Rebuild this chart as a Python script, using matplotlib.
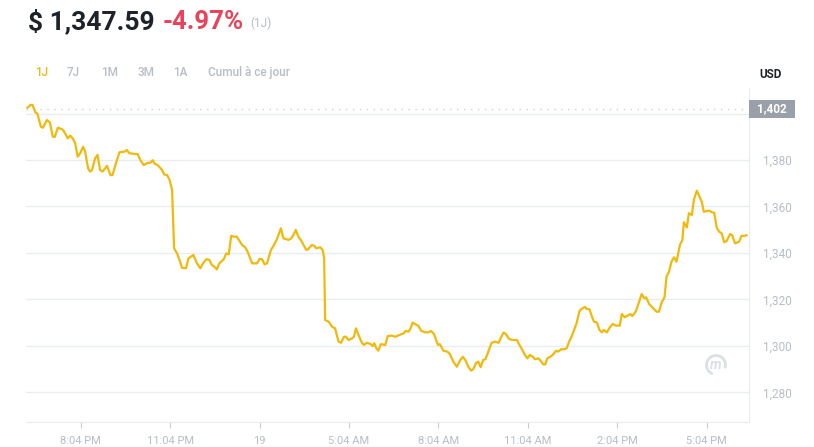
import matplotlib
matplotlib.use('Agg')
import matplotlib.pyplot as plt
from matplotlib.patches import Rectangle, Arc
from matplotlib.transforms import blended_transform_factory

# minutes since 18:00 on the 18th, and price in USD
minutes = [17, 23, 27, 33, 37, 44, 48, 56, 62, 68, 72, 78, 86, 90, 98, 103, 108, 113, 118, 123,
           129, 133, 139, 143, 147, 153, 158, 163, 168, 177, 184, 188, 196, 202, 212, 217, 222, 234, 239, 244,
           251, 259, 264, 269, 273, 279, 288, 292, 298, 303, 308, 312, 318, 323, 328, 336, 341, 351, 358, 365,
           371, 377, 383, 388, 393, 398, 403, 412, 417, 422, 427, 432, 438, 449, 455, 460, 469, 479, 484, 489,
           494, 499, 507, 512, 519, 527, 532, 542, 548, 552, 557, 562, 567, 578, 582, 589, 594, 598, 606, 611,
           614, 616, 623, 630, 636, 643, 648, 654, 658, 663, 670, 674, 678, 683, 690, 694, 700, 707, 712, 715,
           719, 723, 728, 737, 742, 750, 757, 766, 774, 778, 784, 788, 792, 797, 804, 809, 817, 824, 829, 835,
           843, 847, 854, 862, 867, 874, 881, 888, 893, 898, 904, 910, 914, 920, 924, 929, 934, 939, 945, 951,
           958, 965, 969, 975, 980, 985, 992, 1002, 1007, 1012, 1018, 1023, 1028, 1035, 1038, 1045, 1050, 1055, 1059, 1063,
           1069, 1074, 1081, 1085, 1092, 1097, 1102, 1107, 1112, 1118, 1122, 1128, 1132, 1139, 1142, 1148, 1153, 1157, 1163, 1168,
           1173, 1177, 1183, 1189, 1195, 1201, 1209, 1213, 1219, 1230, 1234, 1241, 1248, 1253, 1258, 1262, 1268, 1276, 1283, 1288,
           1293, 1299, 1303, 1308, 1313, 1318, 1323, 1330, 1335, 1338, 1344, 1348, 1354, 1358, 1364, 1368, 1374, 1378, 1384, 1389,
           1394, 1399, 1404, 1409, 1414, 1419, 1424, 1431, 1435, 1441, 1449, 1454, 1459, 1464]
price = [1402.5, 1403.7, 1403.7, 1400.5, 1399.9, 1394.3, 1393.9, 1397.2, 1396.2, 1390.0, 1390.0, 1393.9, 1393.3, 1392.5, 1389.3, 1390.5, 1389.3, 1387.2, 1381.4, 1382.9,
         1385.7, 1383.6, 1376.4, 1375.0, 1375.7, 1380.7, 1382.2, 1375.7, 1375.0, 1377.5, 1373.5, 1373.5, 1379.3, 1383.3, 1383.6, 1384.3, 1382.9, 1382.6, 1382.5, 1380.0,
         1377.8, 1378.8, 1378.8, 1379.9, 1378.4, 1377.8, 1375.7, 1373.8, 1373.5, 1371.4, 1367.1, 1342.0, 1339.8, 1336.9, 1333.6, 1333.4, 1337.7, 1339.1, 1335.5, 1333.4,
         1335.8, 1337.3, 1337.0, 1334.8, 1334.1, 1332.9, 1335.5, 1337.3, 1339.8, 1339.4, 1347.4, 1347.0, 1347.0, 1343.4, 1342.4, 1340.5, 1335.5, 1335.5, 1337.4, 1337.3,
         1335.1, 1335.5, 1341.3, 1343.0, 1345.9, 1350.6, 1346.3, 1345.6, 1346.3, 1347.7, 1349.9, 1347.0, 1345.6, 1341.3, 1341.6, 1343.4, 1343.1, 1342.0, 1342.4, 1341.3,
         1337.7, 1311.1, 1310.4, 1308.2, 1307.5, 1301.8, 1301.3, 1303.9, 1303.9, 1302.5, 1303.2, 1303.9, 1307.5, 1304.7, 1301.3, 1300.4, 1301.3, 1300.8, 1299.9, 1301.1,
         1298.9, 1297.9, 1300.7, 1300.4, 1304.2, 1304.4, 1303.9, 1304.7, 1305.4, 1306.4, 1306.1, 1307.5, 1310.0, 1309.4, 1308.5, 1306.5, 1305.8, 1305.8, 1306.4, 1305.1,
         1300.4, 1300.7, 1297.9, 1297.5, 1296.5, 1293.2, 1291.0, 1293.9, 1295.3, 1293.9, 1291.0, 1289.3, 1289.9, 1292.7, 1293.2, 1290.8, 1293.9, 1294.3, 1297.9, 1301.3,
         1301.8, 1301.3, 1303.2, 1305.7, 1305.1, 1303.2, 1302.5, 1302.5, 1300.4, 1298.5, 1296.1, 1294.6, 1296.1, 1295.1, 1294.2, 1294.6, 1293.5, 1292.0, 1292.0, 1294.6,
         1295.3, 1296.1, 1297.9, 1297.5, 1298.6, 1298.5, 1298.9, 1301.8, 1304.0, 1307.5, 1309.7, 1315.1, 1315.9, 1316.8, 1315.9, 1315.7, 1312.5, 1310.4, 1310.0, 1306.8,
         1305.8, 1306.8, 1305.8, 1308.0, 1309.4, 1308.7, 1308.7, 1313.7, 1312.3, 1313.7, 1312.8, 1314.7, 1319.0, 1322.3, 1320.5, 1320.9, 1318.0, 1316.2, 1314.7, 1314.7,
         1318.6, 1320.9, 1329.8, 1331.9, 1336.2, 1338.1, 1336.2, 1343.4, 1345.6, 1353.2, 1351.0, 1357.1, 1356.3, 1362.8, 1366.8, 1364.9, 1362.0, 1357.7, 1358.0, 1358.2,
         1357.5, 1357.3, 1350.9, 1349.1, 1348.4, 1344.6, 1345.1, 1348.1, 1347.7, 1344.1, 1344.8, 1347.4, 1347.3, 1347.6]

x_tick_pos = [124, 304, 484, 664, 844, 1024, 1204, 1384]
x_tick_labels = ['8:04 PM', '11:04 PM', '19', '5:04 AM', '8:04 AM', '11:04 AM', '2:04 PM', '5:04 PM']
y_ticks = [1280, 1300, 1320, 1340, 1360, 1380, 1400]
y_tick_labels = ['1,280', '1,300', '1,320', '1,340', '1,360', '1,380', '']
open_price = 1402
last_price = '$ 1,347.59'
change = '-4.97%'
ranges = ['1J', '7J', '1M', '3M', '1A', 'Cumul à ce jour']
range_x = [35, 67, 101, 137, 173, 208]

plt.rcParams['font.family'] = ['Roboto', 'DejaVu Sans']

yellow = '#f0b90b'
grey_txt = '#b7bdc6'
grid_c = '#eaecef'

fig = plt.figure(figsize=(8.14, 4.47), dpi=100)
ax = fig.add_axes([26 / 814, 1 - 422 / 447, 723 / 814, 334 / 447])

ax.plot(minutes, price, color=yellow, lw=1.6, solid_joinstyle='round', zorder=3)
ax.axhline(open_price, color='#cdd1d6', lw=1, linestyle=(0, (1, 4)), zorder=2)

ax.set_xlim(14, 1469)
ax.set_ylim(1267.2, 1411)

ax.yaxis.tick_right()
ax.set_yticks(y_ticks)
ax.set_yticklabels(y_tick_labels)
ax.tick_params(axis='y', length=0, pad=10, labelsize=8.5, labelcolor=grey_txt)
ax.set_xticks(x_tick_pos)
ax.set_xticklabels(x_tick_labels)
ax.tick_params(axis='x', length=4, width=0.8, color='#c9cdd3', pad=6, labelsize=8, labelcolor=grey_txt)
ax.grid(axis='y', color=grid_c, lw=1)
ax.set_axisbelow(True)
for s in ['top', 'left']:
    ax.spines[s].set_visible(False)
ax.spines['right'].set_color(grid_c)
ax.spines['bottom'].set_color(grid_c)

# open price tag on the right axis
tr = blended_transform_factory(ax.transAxes, ax.transData)
ax.add_patch(Rectangle((1.0, open_price - 3.9), 46 / 723, 7.8, transform=tr,
                       facecolor='#9aa0a9', edgecolor='none', clip_on=False, zorder=5))
ax.text(1.0 + 23 / 723, open_price, '1,402', transform=tr, ha='center', va='center',
        color='white', fontsize=8.5, fontweight='bold', zorder=6)

# header
fig.text(28 / 814, 1 - 29 / 447, last_price, fontsize=19, fontweight='bold', color='#1e2329', va='baseline')
fig.text(163 / 814, 1 - 29 / 447, change, fontsize=18.5, fontweight='bold', color='#e9435b', va='baseline')
fig.text(250 / 814, 1 - 27 / 447, '(1J)', fontsize=8.5, color=grey_txt, va='baseline')
for lab, x in zip(ranges, range_x):
    fig.text(x / 814, 1 - 76 / 447, lab, fontsize=8.5, fontweight='medium',
             color=yellow if lab == '1J' else grey_txt, va='baseline')
fig.text(771 / 814, 1 - 75 / 447, 'USD', fontsize=8.5, fontweight='bold', color='#1e2329',
         ha='center', va='center')

# watermark logo
cx, cy = 716 / 100, (447 - 365) / 100
fig.add_artist(Arc((cx, cy), 0.19, 0.19, theta1=-20, theta2=250, transform=fig.dpi_scale_trans,
                   color='#dcdfe3', lw=2))
fig.text(cx / 8.14, cy / 4.47, 'm', transform=fig.transFigure, ha='center', va='center',
         fontsize=10, fontweight='bold', color='#dcdfe3', style='italic')

fig.savefig('out.png', dpi=100)
